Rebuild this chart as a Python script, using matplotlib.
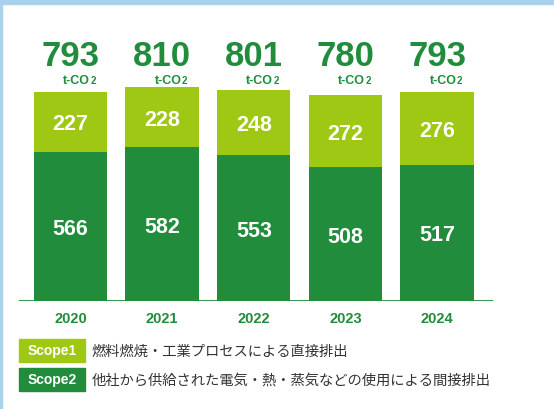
import matplotlib
matplotlib.use("Agg")
import matplotlib.pyplot as plt
from matplotlib.patches import Rectangle

# データ
years = ["2020", "2021", "2022", "2023", "2024"]
scope1 = [227, 228, 248, 272, 276]
scope2 = [566, 582, 553, 508, 517]
totals = [793, 810, 801, 780, 793]
legend_labels = ["Scope1", "Scope2"]
legend_texts = ["燃料燃焼・工業プロセスによる直接排出",
                "他社から供給された電気・熱・蒸気などの使用による間接排出"]

LIGHT = "#9fc814"
DARK = "#218c3b"
NUM_FONT = ["Liberation Sans", "DejaVu Sans"]
JP_FONT = ["Noto Sans CJK JP", "DejaVu Sans"]

W, H = 554, 410
fig = plt.figure(figsize=(W / 100, H / 100), dpi=100)
fig.patch.set_facecolor("white")

# 背景の青い帯
fig.add_artist(Rectangle((0, 1 - 5 / H), 1, 5 / H, transform=fig.transFigure,
                         color="#a9d1ec", zorder=0))
fig.add_artist(Rectangle((0, 0), 2 / W, 1, transform=fig.transFigure,
                         color="#a9d1ec", zorder=0))

# 軸 (ピクセル位置から)
left, right, base = 19, 493, 302
ax = fig.add_axes([left / W, (H - base) / H, (right - left) / W, base / H])
ax.set_facecolor("none")
ax.set_xlim(-0.562, 4.61)
ax.set_ylim(0, 1144)
for s in ax.spines.values():
    s.set_visible(False)
ax.set_yticks([])

x = list(range(len(years)))
ax.bar(x, scope2, width=0.8, color=DARK, zorder=2)
ax.bar(x, scope1, width=0.8, bottom=scope2, color=LIGHT, zorder=2)
ax.axhline(0, color=DARK, lw=2, zorder=3)

ax.set_xticks(x)
ax.set_xticklabels(years, family=NUM_FONT, fontweight="bold",
                   fontsize=10.5, color=DARK)
ax.tick_params(axis="x", length=0, pad=7)

# 合計ラベルは全て同じ高さ
total_y = 894
unit_y = 826
for i in x:
    ax.annotate(str(scope2[i]), (i, scope2[i] / 2), xytext=(0, -5.5),
                textcoords="offset points", ha="center", va="baseline",
                color="white", fontsize=15.5, fontweight="bold", family=NUM_FONT)
    ax.annotate(str(scope1[i]), (i, scope2[i] + scope1[i] / 2), xytext=(0, -5.5),
                textcoords="offset points", ha="center", va="baseline",
                color="white", fontsize=15.5, fontweight="bold", family=NUM_FONT)
    ax.text(i, total_y, str(totals[i]), ha="center", va="baseline",
            color=DARK, fontsize=25, fontweight="bold", family=NUM_FONT)
    ax.annotate("t-CO", (i, unit_y), xytext=(14, 0),
                textcoords="offset points", ha="right", va="baseline",
                color=DARK, fontsize=9, fontweight="bold", family=NUM_FONT)
    ax.annotate("2", (i, unit_y), xytext=(14.3, 0),
                textcoords="offset points", ha="left", va="baseline",
                color=DARK, fontsize=7, fontweight="bold", family=NUM_FONT)

# 凡例
boxes = [(340, LIGHT), (369, DARK)]
for (top, col), lab, txt in zip(boxes, legend_labels, legend_texts):
    y0 = (H - top - 23) / H
    fig.add_artist(Rectangle((19 / W, y0), 66 / W, 23 / H,
                             transform=fig.transFigure, color=col))
    fig.text(52 / W, y0 + 11.5 / H, lab, ha="center", va="center",
             color="white", fontsize=10, fontweight="bold", family=NUM_FONT)
    fig.text(92 / W, y0 + 11.5 / H, txt, ha="left", va="center",
             color="#333333", fontsize=10.3, family=JP_FONT)

fig.savefig("out.png", dpi=100)
